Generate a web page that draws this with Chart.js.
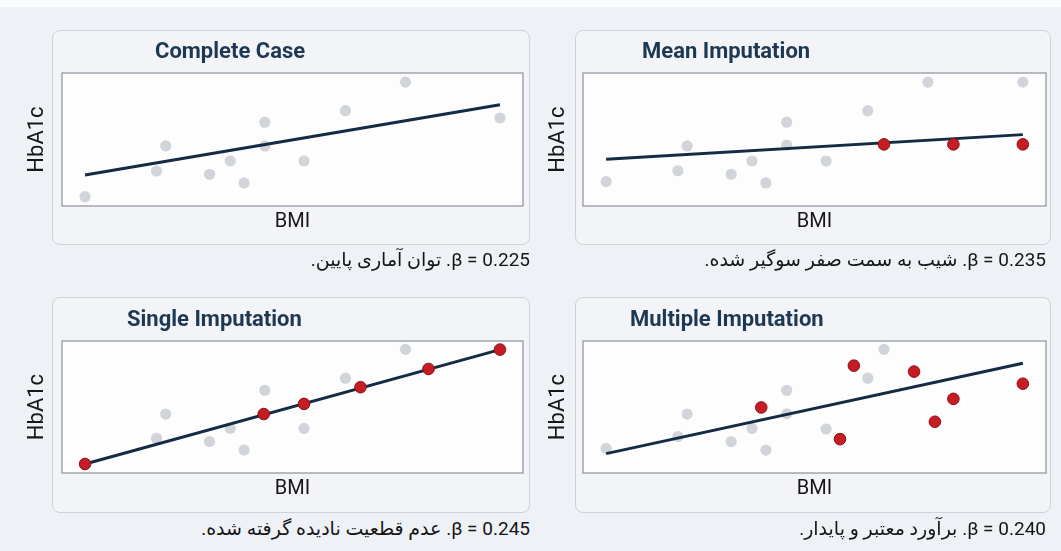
<!DOCTYPE html>
<html>
<head>
<meta charset="utf-8">
<script src="https://cdn.jsdelivr.net/npm/chart.js"></script>
<style>
  html, body { margin: 0; padding: 0; }
  body {
    width: 1061px; height: 551px; position: relative; overflow: hidden;
    background: #eef1f5; font-family: Roboto, "DejaVu Sans", sans-serif;
  }
  .strip { position: absolute; left: 0; top: 0; width: 1061px; height: 7px; background: #fafbfc; }
  .box {
    position: absolute; box-sizing: border-box; background: #f2f4f7;
    border: 1px solid #cdd2d9; border-radius: 8px;
  }
  .ttl {
    position: absolute; white-space: nowrap; color: #1c3852;
    font: bold 22px/26px Roboto, sans-serif;
  }
  .cap {
    position: absolute; white-space: nowrap; direction: rtl; color: #151515;
    font-size: 19px; line-height: 24px;
  }
  canvas { position: absolute; }
</style>
</head>
<body>
<div class="strip"></div>
<script>
// axis ranges (BMI on x, HbA1c on y)
const bmiMin = 18, bmiMax = 38;
const hbaMin = 4, hbaMax = 10;
const fitX = [19, 37];

// Complete Case
const ccGrayX = [19.0, 22.1, 22.5, 24.4, 25.3, 25.9, 26.8, 26.8, 28.5, 30.3, 32.9, 37.0];
const ccGrayY = [4.42, 5.58, 6.71, 5.43, 6.03, 5.04, 7.78, 6.71, 6.03, 8.30, 9.59, 7.97];
const ccRedX = [];
const ccRedY = [];
const ccFitY = [5.40, 8.57];

// Mean Imputation
const miGrayX = [19.0, 22.1, 22.5, 24.4, 25.3, 25.9, 26.8, 26.8, 28.5, 30.3, 32.9, 37.0];
const miGrayY = [5.10, 5.59, 6.71, 5.43, 6.03, 5.04, 7.78, 6.75, 6.03, 8.30, 9.59, 9.59];
const miRedX = [31.0, 34.0, 37.0];
const miRedY = [6.78, 6.78, 6.78];
const miFitY = [6.11, 7.22];

// Single Imputation
const siGrayX = [22.1, 22.5, 24.4, 25.3, 25.9, 26.8, 28.5, 30.3, 32.9];
const siGrayY = [5.58, 6.68, 5.43, 6.03, 5.04, 7.76, 6.03, 8.31, 9.62];
const siRedX = [19.0, 26.75, 28.5, 30.95, 33.9, 37.0];
const siRedY = [4.41, 6.68, 7.14, 7.90, 8.73, 9.61];
const siFitY = [4.41, 9.61];

// Multiple Imputation
const muGrayX = [19.0, 22.1, 22.5, 24.4, 25.3, 25.9, 26.8, 26.8, 28.5, 30.3, 31.0];
const muGrayY = [5.12, 5.66, 6.68, 5.43, 6.03, 5.04, 7.76, 6.69, 6.00, 8.31, 9.62];
const muRedX = [25.7, 29.1, 29.7, 32.3, 33.2, 34.0, 37.0];
const muRedY = [6.98, 5.54, 8.88, 8.61, 6.33, 7.37, 8.06];
const muFitY = [4.88, 8.99];

const titles = ['Complete Case', 'Mean Imputation', 'Single Imputation', 'Multiple Imputation'];
const captions = [
  '0.225 = β. توان آماری پایین.',
  '0.235 = β. شیب به سمت صفر سوگیر شده.',
  '0.245 = β. عدم قطعیت نادیده گرفته شده.',
  '0.240 = β. برآورد معتبر و پایدار.'
];

// layout of the four panels (page pixels)
const panels = [
  { box: [52, 30, 478, 215],  plot: [62, 73, 523, 206],   title: [155, 38],   capRight: 531, capTop: 248 },
  { box: [575, 30, 476, 215], plot: [583, 73, 1046, 206], title: [642, 38],   capRight: 15,  capTop: 248 },
  { box: [52, 297, 478, 216], plot: [62, 341, 523, 473],  title: [127, 306],  capRight: 531, capTop: 517 },
  { box: [575, 297, 476, 216], plot: [583, 341, 1046, 473], title: [630, 306], capRight: 15, capTop: 517 }
];
const series = [
  [ccGrayX, ccGrayY, ccRedX, ccRedY, ccFitY],
  [miGrayX, miGrayY, miRedX, miRedY, miFitY],
  [siGrayX, siGrayY, siRedX, siRedY, siFitY],
  [muGrayX, muGrayY, muRedX, muRedY, muFitY]
];

const pts = (xs, ys) => xs.map((x, i) => ({ x: x, y: ys[i] }));

// white plot area with grey frame
const plotFrame = {
  id: 'plotFrame',
  beforeDatasetsDraw(chart) {
    const { ctx, chartArea: a } = chart;
    ctx.save();
    ctx.fillStyle = '#fdfdfe';
    ctx.fillRect(a.left, a.top, a.width, a.height);
    ctx.strokeStyle = '#8d9299';
    ctx.lineWidth = 1.2;
    ctx.strokeRect(a.left, a.top, a.width, a.height);
    ctx.restore();
  }
};

panels.forEach((p, k) => {
  const box = document.createElement('div');
  box.className = 'box';
  box.style.left = p.box[0] + 'px'; box.style.top = p.box[1] + 'px';
  box.style.width = p.box[2] + 'px'; box.style.height = p.box[3] + 'px';
  document.body.appendChild(box);

  const [pl, pt, pr, pb] = p.plot;
  const cv = document.createElement('canvas');
  const left = pl - 42, top = pt - 43;
  const w = pr - left + 10, h = pb - top + 44;
  cv.width = w; cv.height = h;
  cv.style.left = left + 'px'; cv.style.top = top + 'px';
  cv.style.width = w + 'px'; cv.style.height = h + 'px';
  document.body.appendChild(cv);

  const ttl = document.createElement('div');
  ttl.className = 'ttl';
  ttl.textContent = titles[k];
  ttl.style.left = p.title[0] + 'px'; ttl.style.top = p.title[1] + 'px';
  document.body.appendChild(ttl);

  const cap = document.createElement('div');
  cap.className = 'cap';
  cap.textContent = captions[k];
  cap.style.right = p.capRight + 'px'; cap.style.top = p.capTop + 'px';
  document.body.appendChild(cap);

  const [gx, gy, rx, ry, fy] = series[k];
  new Chart(cv, {
    type: 'scatter',
    data: {
      datasets: [
        { data: pts(rx, ry), pointRadius: 5.8, pointBackgroundColor: '#c51d23',
          pointBorderColor: '#8c1015', pointBorderWidth: 1 },
        { data: pts(fitX, fy), showLine: true, borderColor: '#132b44', borderWidth: 3,
          pointRadius: 0, fill: false },
        { data: pts(gx, gy), pointRadius: 5.6, pointBackgroundColor: '#d1d4d9',
          pointBorderColor: '#d1d4d9', pointBorderWidth: 0 }
      ]
    },
    options: {
      responsive: false,
      animation: false,
      devicePixelRatio: 1,
      layout: { padding: { left: 0, top: 43, right: 10, bottom: 0 } },
      plugins: { legend: { display: false }, tooltip: { enabled: false } },
      scales: {
        x: {
          min: bmiMin, max: bmiMax,
          ticks: { display: false },
          grid: { display: false, drawTicks: false },
          border: { display: false },
          title: { display: true, text: 'BMI', color: '#161616',
                   font: { family: 'Roboto', size: 20 }, padding: { top: 4, bottom: 16 } },
          afterFit: s => { s.height = 44; }
        },
        y: {
          min: hbaMin, max: hbaMax,
          ticks: { display: false },
          grid: { display: false, drawTicks: false },
          border: { display: false },
          title: { display: true, text: 'HbA1c', color: '#161616',
                   font: { family: 'Roboto', size: 22 }, padding: { top: 4, bottom: 11.6 } },
          afterFit: s => { s.width = 42; }
        }
      }
    },
    plugins: [plotFrame]
  });
});
</script>
</body>
</html>
